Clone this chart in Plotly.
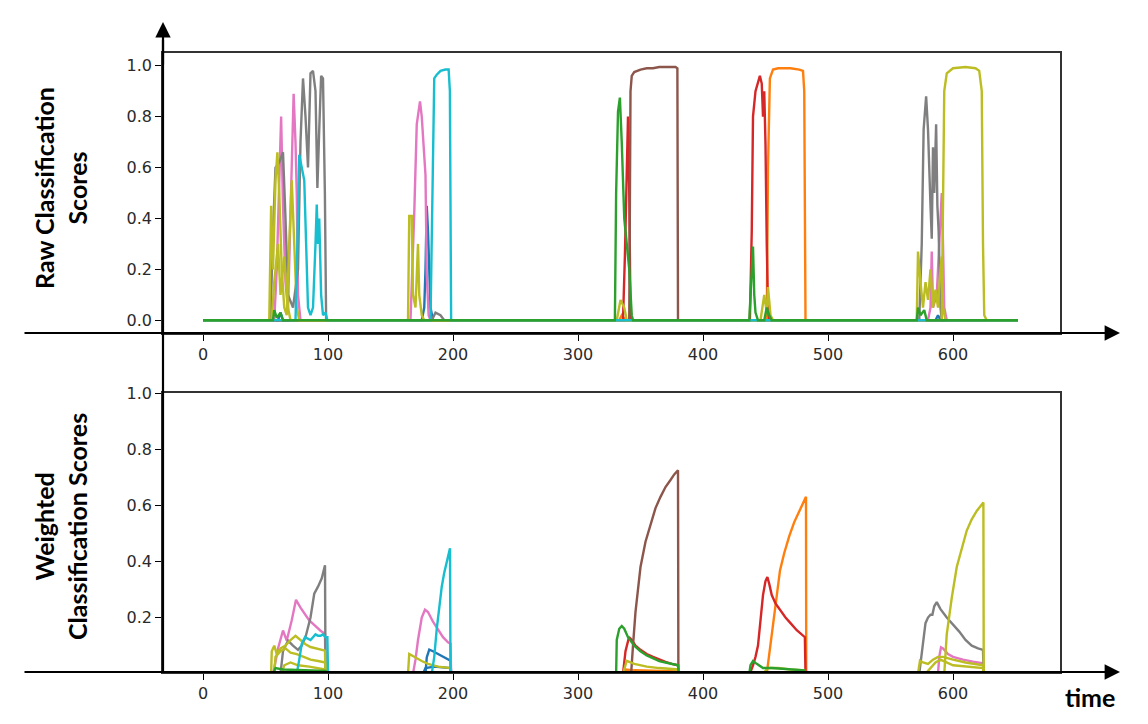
import plotly.graph_objects as go

# page body has an 8px margin, so the figure is drawn 16px smaller and shifted by 8px
OFF = 8
W, H = 1148 - 2 * OFF, 724 - 2 * OFF

# ---------------- data (time, score) breakpoints ----------------
END = 652

raw_blue = [(0, 0), (60, 0), (62, 0.03), (64, 0), (175, 0), (177, 0.05), (178, 0.2), (179, 0.45), (180, 0.35),
            (181, 0.15), (182, 0.05), (184, 0), (586, 0), (588, 0.02), (590, 0), (END, 0)]
raw_orange = [(0, 0), (333, 0), (335, 0.02), (338, 0), (451, 0), (452, 0.6), (453.5, 0.95), (456, 0.985), (460, 0.99),
              (470, 0.99), (477, 0.985), (480, 0.98), (481, 0.9), (482, 0), (END, 0)]
raw_red = [(0, 0), (336, 0), (337.5, 0.25), (339, 0.6), (340, 0.8), (341, 0.5), (342, 0.02), (343, 0),
           (437.5, 0), (439, 0.35), (440, 0.8), (442, 0.9), (444, 0.94), (445.5, 0.96), (447, 0.93), (448, 0.8),
           (449, 0.9), (450, 0.69), (451, 0.3), (452, 0.05), (453, 0), (END, 0)]
raw_brown = [(0, 0), (341, 0), (342, 0.9), (343, 0.96), (345, 0.975), (350, 0.985), (355, 0.99), (360, 0.99),
             (365, 0.995), (370, 0.995), (378, 0.995), (379.5, 0.99), (380, 0), (END, 0)]
raw_pink = [(0, 0), (57, 0), (59, 0.2), (61, 0.6), (62.5, 0.8), (64, 0.45), (66, 0.15), (68, 0.04), (70, 0.4),
            (72.5, 0.89), (74, 0.7), (75, 0.5), (76, 0.1), (78, 0), (166, 0), (167.5, 0.2), (169, 0.42),
            (171, 0.77), (173.6, 0.86), (175, 0.8), (176.3, 0.7), (178, 0.57), (179, 0.18), (180.5, 0.02),
            (182, 0), (580, 0), (582, 0.05), (583, 0.27), (584, 0.05), (587, 0.1), (589, 0.3), (591, 0.5),
            (592, 0.3), (593, 0.05), (595, 0), (END, 0)]
raw_gray = [(0, 0), (54, 0), (56, 0.35), (58, 0.6), (61, 0.62), (64, 0.66), (66, 0.4), (68, 0.1), (72, 0.05),
            (76, 0.2), (78, 0.7), (80, 0.95), (82, 0.8), (84, 0.6), (86, 0.97), (88, 0.98), (90, 0.9),
            (91.5, 0.52), (93, 0.75), (94.5, 0.96), (96, 0.95), (97.5, 0.5), (98.5, 0), (183, 0), (186, 0.03),
            (190, 0.02), (193, 0), (573, 0), (575, 0.3), (576.5, 0.75), (578.5, 0.88), (580, 0.75), (582, 0.45),
            (583, 0.32), (584, 0.68), (585, 0.5), (586.5, 0.77), (587.5, 0.45), (588.5, 0.35), (590, 0.05),
            (591, 0), (END, 0)]
raw_olive_a = [(0, 0), (53, 0), (54.5, 0.45), (56, 0.2), (58, 0.55), (59.5, 0.66), (61, 0.5), (63, 0.2),
               (65, 0.05), (67, 0.02), (69, 0.3), (71, 0.55), (73, 0.3), (75, 0.05), (77, 0), (164, 0),
               (165, 0.41), (167, 0.41), (168, 0.1), (170, 0.05), (172, 0.3), (173, 0.1), (175, 0.02), (177, 0),
               (331, 0), (334, 0.08), (337, 0.05), (339, 0), (446, 0), (449, 0.1), (451, 0.03), (452, 0.13),
               (454, 0.02), (456, 0), (591, 0), (592, 0.5), (593, 0.9), (595, 0.97), (600, 0.99), (610, 0.995),
               (618, 0.99), (621, 0.98), (623, 0.9), (624, 0.3), (625, 0.02), (627, 0), (END, 0)]
raw_olive_b = [(0, 0), (55, 0), (57, 0.15), (60, 0.3), (62, 0.1), (65, 0.25), (68, 0.05), (70, 0),
               (571, 0), (572, 0.27), (574, 0.15), (576, 0.05), (578, 0.15), (580, 0.08), (582, 0.2),
               (584, 0.05), (586, 0.12), (588, 0.05), (590, 0.2), (591, 0.25), (592, 0.05), (594, 0), (END, 0)]
raw_cyan = [(0, 0), (74, 0), (75.5, 0.3), (77, 0.65), (79, 0.6), (81, 0.55), (82.5, 0.3), (84, 0.05), (86, 0.02),
            (88, 0.05), (90, 0.3), (91, 0.455), (92, 0.3), (93, 0.4), (94.5, 0.1), (96, 0.02), (98, 0.03),
            (99.5, 0), (182, 0), (183.5, 0.5), (185, 0.95), (187, 0.965), (190, 0.98), (194, 0.985),
            (196.5, 0.985), (197.5, 0.9), (198.5, 0), (END, 0)]
raw_green = [(0, 0), (56, 0), (57, 0.04), (59, 0.01), (62, 0.03), (64, 0), (329.5, 0), (330.5, 0.5), (332, 0.82),
             (333.5, 0.875), (335, 0.7), (337, 0.4), (339, 0.3), (341, 0.2), (343, 0.02), (344, 0), (437, 0),
             (438.5, 0.15), (440, 0.29), (441, 0.1), (442, 0.03), (444, 0), (449, 0), (451, 0.05), (453, 0.02),
             (455, 0), (571, 0), (572, 0.05), (574, 0.02), (577, 0.04), (579, 0), (END, 0)]

w_blue_a = [(0, 0), (178, 0), (179, 0.058), (181, 0.086), (184, 0.08), (188, 0.07), (192, 0.06), (198, 0.046),
            (198.5, 0), (END, 0)]
w_blue_b = [(0, 0), (176, 0), (178, 0.02), (185, 0.025), (198, 0.02), (198.5, 0), (END, 0)]
w_orange = [(0, 0), (335, 0), (338, 0.015), (345, 0.012), (380, 0.008), (380.5, 0), (451, 0), (453, 0.07),
            (455, 0.14), (458, 0.25), (461.6, 0.368), (465, 0.43), (469, 0.49), (473, 0.54), (477, 0.58),
            (480, 0.61), (482.4, 0.63), (482.6, 0), (END, 0)]
w_red = [(0, 0), (336, 0), (338, 0.08), (340.8, 0.13), (343, 0.12), (346, 0.1), (350, 0.085), (355, 0.07),
         (360, 0.06), (365, 0.05), (370, 0.042), (375, 0.035), (380, 0.03), (380.5, 0), (437.5, 0), (440, 0.03),
         (442, 0.06), (444, 0.1), (446, 0.2), (448, 0.28), (450, 0.33), (451.5, 0.344), (453, 0.32), (455, 0.28),
         (458, 0.25), (462, 0.225), (466, 0.2), (470, 0.18), (475, 0.155), (481.5, 0.13), (482, 0), (END, 0)]
w_brown = [(0, 0), (342.5, 0), (344, 0.1), (346, 0.22), (348, 0.3), (350, 0.38), (354, 0.47), (358, 0.535),
           (362, 0.59), (366, 0.63), (370, 0.665), (374, 0.69), (377, 0.71), (380, 0.725), (380.3, 0), (END, 0)]
w_pink = [(0, 0), (56, 0), (57, 0.02), (60, 0.09), (64, 0.154), (67, 0.118), (71, 0.19), (74.4, 0.263),
          (78, 0.235), (81.6, 0.213), (85, 0.19), (89.6, 0.171), (94, 0.153), (97.6, 0.142), (98, 0), (168, 0),
          (170, 0.05), (172, 0.12), (175, 0.2), (177.6, 0.228), (180, 0.22), (184, 0.185), (188, 0.155),
          (192, 0.13), (196, 0.112), (198, 0.107), (198.5, 0), (588, 0), (589, 0.06), (590.4, 0.094),
          (592, 0.09), (596, 0.07), (600, 0.06), (608, 0.05), (616, 0.043), (624, 0.037), (624.5, 0), (END, 0)]
w_gray = [(0, 0), (62, 0), (64, 0.08), (68, 0.118), (72, 0.1), (76, 0.085), (79, 0.1), (82, 0.13), (86, 0.2),
          (89, 0.285), (92, 0.31), (95, 0.34), (97.6, 0.386), (98, 0), (573, 0), (576, 0.1), (578, 0.18),
          (580, 0.2), (582, 0.21), (583.5, 0.21), (585, 0.24), (587, 0.255), (590, 0.23), (595, 0.2),
          (600, 0.175), (605, 0.15), (610, 0.12), (615, 0.1), (620, 0.09), (624, 0.085), (624.5, 0), (END, 0)]
w_olive_a = [(0, 0), (54.5, 0), (55, 0.08), (57, 0.1), (59, 0.07), (62, 0.09), (66, 0.1), (70, 0.12), (74, 0.135),
             (78, 0.12), (82, 0.105), (86, 0.095), (90, 0.09), (94, 0.085), (97.6, 0.082), (98, 0), (164, 0),
             (165, 0.07), (167, 0.065), (170, 0.055), (175, 0.045), (180, 0.035), (188, 0.025), (198, 0.02),
             (198.5, 0), (336, 0), (339, 0.046), (345, 0.035), (355, 0.025), (365, 0.02), (380, 0.015),
             (380.5, 0), (448, 0), (452, 0.02), (460, 0.02), (470, 0.015), (481, 0.012), (481.5, 0),
             (593, 0), (595, 0.14), (599, 0.27), (603, 0.38), (607, 0.45), (611, 0.51), (615, 0.55),
             (619, 0.58), (624.3, 0.61), (624.6, 0), (END, 0)]
w_olive_b = [(0, 0), (57, 0), (58, 0.06), (62, 0.08), (66, 0.09), (70, 0.075), (75, 0.07), (80, 0.06), (86, 0.05),
             (92, 0.045), (98, 0.04), (98.5, 0), (572, 0), (573.6, 0.046), (576, 0.04), (580, 0.035),
             (584, 0.05), (588, 0.06), (592, 0.06), (600, 0.05), (610, 0.04), (624, 0.03), (624.5, 0), (END, 0)]
w_olive_c = [(0, 0), (63, 0), (65, 0.03), (70, 0.04), (76, 0.03), (85, 0.025), (98, 0.015), (98.5, 0),
             (578, 0), (582, 0.02), (586, 0.04), (590, 0.05), (600, 0.03), (624, 0.02), (624.5, 0), (END, 0)]
w_cyan = [(0, 0), (75, 0), (77, 0.05), (79, 0.106), (81.6, 0.13), (84, 0.125), (86, 0.12), (88, 0.13), (90, 0.14),
          (92, 0.135), (94, 0.135), (96, 0.14), (98, 0.13), (99.5, 0.13), (100, 0), (183, 0), (185, 0.06),
          (187, 0.16), (189, 0.24), (191, 0.31), (193, 0.36), (195, 0.4), (197.6, 0.447), (198, 0), (END, 0)]
w_green = [(0, 0), (56, 0), (58, 0.02), (64, 0.015), (98, 0.01), (98.5, 0), (330.5, 0), (331, 0.12), (333, 0.16),
           (335, 0.17), (337, 0.16), (340, 0.13), (345, 0.1), (350, 0.08), (355, 0.065), (360, 0.055),
           (365, 0.045), (370, 0.04), (375, 0.035), (380, 0.03), (380.5, 0), (437, 0), (438, 0.03), (440, 0.045),
           (443, 0.035), (448, 0.02), (455, 0.02), (470, 0.015), (481, 0.012), (481.5, 0), (END, 0)]

x_ticks = [0, 100, 200, 300, 400, 500, 600]
raw_y_ticks = [0.0, 0.2, 0.4, 0.6, 0.8, 1.0]
w_y_ticks = [0.2, 0.4, 0.6, 0.8, 1.0]

BLUE, ORANGE, GREEN, RED = "#1f77b4", "#ff7f0e", "#2ca02c", "#d62728"
BROWN, PINK, GRAY, OLIVE, CYAN = "#8c564b", "#e377c2", "#7f7f7f", "#bcbd22", "#17becf"

raw_series = [(raw_blue, BLUE), (raw_orange, ORANGE), (raw_red, RED), (raw_brown, BROWN), (raw_pink, PINK),
              (raw_gray, GRAY), (raw_olive_b, OLIVE), (raw_olive_a, OLIVE), (raw_cyan, CYAN), (raw_green, GREEN)]
w_series = [(w_blue_b, BLUE), (w_blue_a, BLUE), (w_orange, ORANGE), (w_red, RED), (w_brown, BROWN),
            (w_pink, PINK), (w_gray, GRAY), (w_olive_c, OLIVE), (w_olive_b, OLIVE), (w_olive_a, OLIVE),
            (w_cyan, CYAN), (w_green, GREEN)]

fig = go.Figure()
for pts, col in raw_series:
    xs, ys = zip(*pts)
    fig.add_trace(go.Scatter(x=xs, y=ys, mode="lines", line=dict(color=col, width=2.4),
                             xaxis="x", yaxis="y", showlegend=False, hoverinfo="skip"))
for pts, col in w_series:
    xs, ys = zip(*pts)
    fig.add_trace(go.Scatter(x=xs, y=ys, mode="lines", line=dict(color=col, width=2.4),
                             xaxis="x2", yaxis="y2", showlegend=False, hoverinfo="skip"))


def px(x):
    return (x - OFF) / W


def py(y):
    return 1 - (y - OFF) / H


tick_font = dict(family="DejaVu Sans", size=16, color="#2a2a2a")
x_common = dict(range=[-32, 685.6], tickvals=x_ticks, ticks="outside", ticklen=6, tickwidth=1.3,
                tickcolor="#000", showline=True, mirror=True, linecolor="#333", linewidth=1.5,
                showgrid=False, zeroline=False, tickfont=tick_font, domain=[px(163), px(1060)],
                automargin=False)
y_common = dict(ticks="outside", ticklen=6, tickwidth=1.3, tickcolor="#000", showline=True, mirror=True,
                linecolor="#333", linewidth=1.5, showgrid=False, zeroline=False, tickfont=tick_font,
                tickformat=".1f", automargin=False)

fig.update_layout(
    width=W, height=H, margin=dict(l=0, r=0, t=0, b=0, pad=0), autosize=False,
    paper_bgcolor="white", plot_bgcolor="white",
    xaxis=dict(anchor="y", **x_common),
    yaxis=dict(anchor="x", range=[-0.05, 1.05], tickvals=raw_y_ticks, domain=[py(333), py(53)], **y_common),
    xaxis2=dict(anchor="y2", **x_common),
    yaxis2=dict(anchor="x2", range=[0.006, 1.0], tickvals=w_y_ticks, domain=[py(672), py(393)], **y_common),
)

# axis arrows (tail offsets in pixels from the head)
arrow = dict(xref="paper", yref="paper", axref="pixel", ayref="pixel", text="", showarrow=True,
             arrowhead=2, arrowsize=1.4, arrowwidth=2.2, arrowcolor="#000")
fig.add_annotation(x=px(1120), y=py(333), ax=-(1120 - 23), ay=0, **arrow)
fig.add_annotation(x=px(1120), y=py(672), ax=-(1120 - 23), ay=0, **arrow)
fig.add_annotation(x=px(163), y=py(22), ax=0, ay=44, **arrow)
fig.add_shape(type="line", xref="paper", yref="paper", x0=px(163), x1=px(163), y0=py(40), y1=py(672),
              line=dict(color="#000", width=2.2))

title_font = dict(family="Lato", size=25, color="#000")
fig.add_annotation(xref="paper", yref="paper", x=px(60), y=py(188), xanchor="center", yanchor="middle",
                   text="<b>Raw Classification<br>Scores</b>",
                   showarrow=False, textangle=-90, font=title_font, align="center")
fig.add_annotation(xref="paper", yref="paper", x=px(60), y=py(527), xanchor="center", yanchor="middle",
                   text="<b>Weighted<br>Classification Scores</b>",
                   showarrow=False, textangle=-90, font=title_font, align="center")
fig.add_annotation(xref="paper", yref="paper", x=px(1090), y=py(697), xanchor="center", yanchor="middle",
                   text="<b>time</b>", showarrow=False, font=title_font)

fig.write_html("out.html")
